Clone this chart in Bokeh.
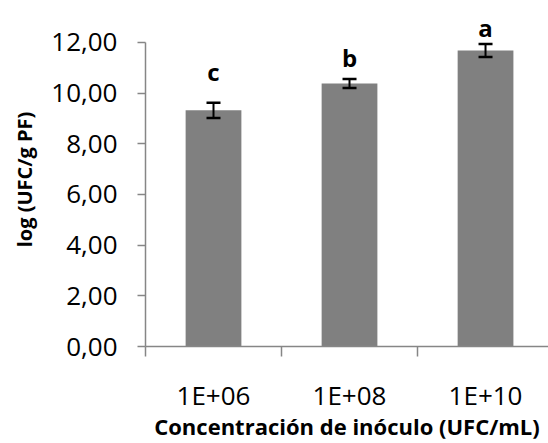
from bokeh.plotting import figure
from bokeh.models import Range1d, FixedTicker, Whisker, TeeHead, ColumnDataSource
from bokeh.embed import file_html
from bokeh.resources import INLINE
from bokeh.core.properties import value

categories = ["1E+06", "1E+08", "1E+10"]
means = [9.32, 10.38, 11.68]
errors = [0.30, 0.18, 0.26]
letters = ["c", "b", "a"]
letter_y = [10.85, 11.4, 12.6]
y_ticks = [0, 2, 4, 6, 8, 10, 12]
y_tick_labels = ["0,00", "2,00", "4,00", "6,00", "8,00", "10,00", "12,00"]
x_title = "Concentración de inóculo (UFC/mL)"
y_title = "log (UFC/g PF)"

FONT = "Open Sans"
AXIS_COLOR = "#868686"

centers = [i + 0.5 for i in range(len(categories))]
bounds_x = [float(i) for i in range(len(categories) + 1)]

x_range = Range1d(0, 2.963)
y_range = Range1d(0, 13.18)
p = figure(width=548, height=443, output_backend="svg", toolbar_location=None,
           x_range=x_range, y_range=y_range,
           min_border_left=145, min_border_right=0, min_border_top=12, min_border_bottom=95)
p.outline_line_color = None
p.xgrid.visible = False
p.ygrid.visible = False
p.background_fill_color = "white"
p.border_fill_color = "white"

src = ColumnDataSource(dict(x=centers, top=means,
                            upper=[m + e for m, e in zip(means, errors)],
                            lower=[m - e for m, e in zip(means, errors)]))

p.vbar(x="x", top="top", width=0.41, source=src, fill_color="#808080", line_color=None)

w = Whisker(source=src, base="x", upper="upper", lower="lower",
            line_color="black", line_width=2, level="overlay",
            upper_head=TeeHead(size=14, line_width=2.5, line_color="black"),
            lower_head=TeeHead(size=14, line_width=2.5, line_color="black"))
p.add_layout(w)

p.text(x=centers, y=letter_y, text=letters, text_font=value(FONT), text_font_style="bold",
       text_font_size="24px", text_align="center", text_baseline="alphabetic", text_color="black")

# x axis
xa = p.xaxis[0]
xa.ticker = FixedTicker(ticks=centers, minor_ticks=bounds_x)
xa.major_label_overrides = {c: lab for c, lab in zip(centers, categories)}
xa.major_tick_out = 0
xa.major_tick_in = 0
xa.minor_tick_out = 10
xa.minor_tick_in = 0
xa.minor_tick_line_color = AXIS_COLOR
xa.minor_tick_line_width = 1.5
xa.axis_line_color = AXIS_COLOR
xa.axis_line_width = 1.5
xa.major_label_text_font = FONT
xa.major_label_text_font_size = "26px"
xa.major_label_text_color = "black"
xa.major_label_standoff = 20
xa.axis_label = x_title
xa.axis_label_text_font = FONT
xa.axis_label_text_font_style = "bold"
xa.axis_label_text_font_size = "22px"
xa.axis_label_text_color = "black"
xa.axis_label_standoff = -5

# y axis
ya = p.yaxis[0]
ya.ticker = FixedTicker(ticks=y_ticks)
ya.major_label_overrides = {t: lab for t, lab in zip(y_ticks, y_tick_labels)}
ya.bounds = (y_ticks[0], y_ticks[-1])
ya.major_tick_out = 8
ya.major_tick_in = 0
ya.minor_tick_out = 0
ya.minor_tick_in = 0
ya.major_tick_line_color = AXIS_COLOR
ya.major_tick_line_width = 1.5
ya.axis_line_color = AXIS_COLOR
ya.axis_line_width = 1.5
ya.major_label_text_font = FONT
ya.major_label_text_font_size = "26px"
ya.major_label_text_color = "black"
ya.major_label_standoff = 20
ya.axis_label = y_title
ya.axis_label_text_font = FONT
ya.axis_label_text_font_style = "bold"
ya.axis_label_text_font_size = "20px"
ya.axis_label_text_color = "black"
ya.axis_label_standoff = 10

open("out.html", "w").write(file_html(p, INLINE))
